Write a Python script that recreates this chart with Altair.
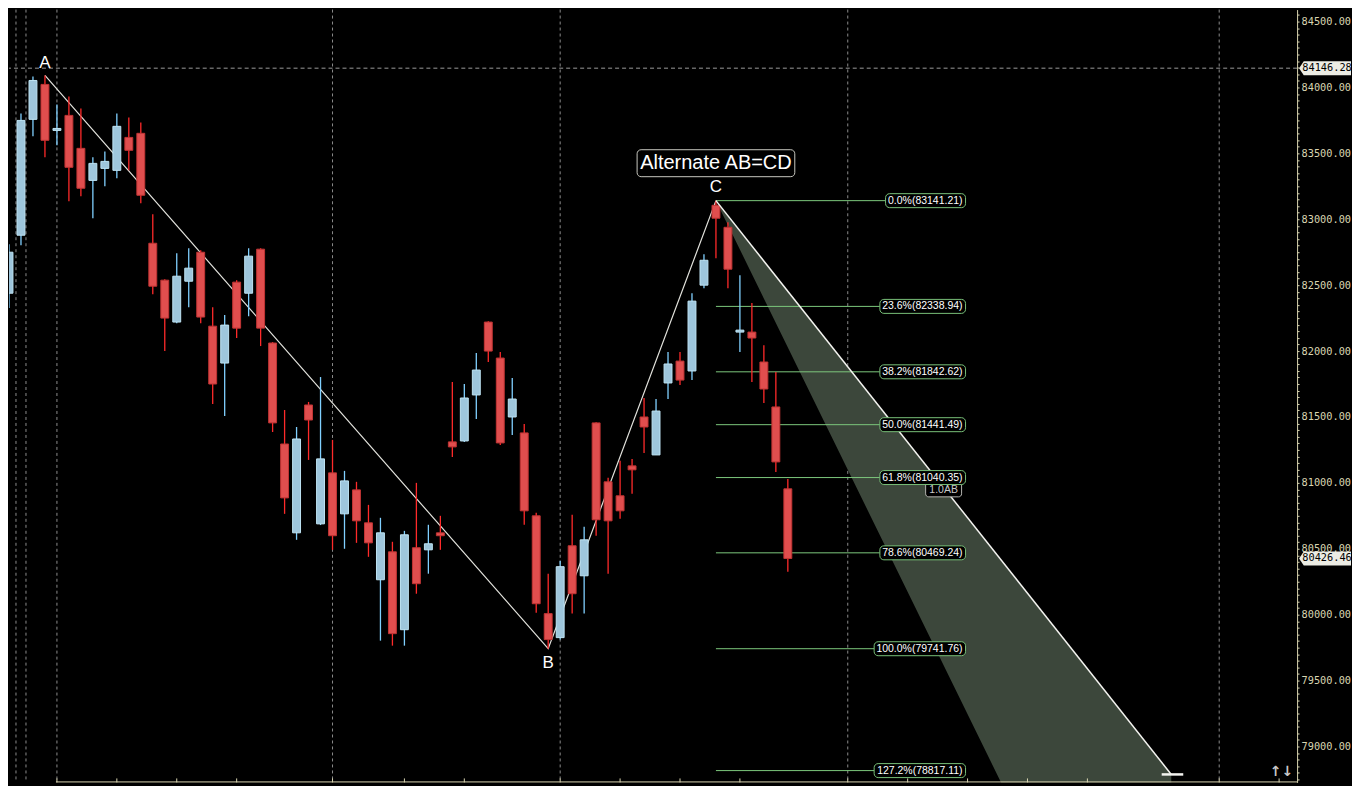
import altair as alt
import pandas as pd

# ---------------- data ----------------
opens = [82439, 82879, 83758, 84023, 83674, 83788, 83538, 83295, 83386, 83371,
         83621, 83652, 82818, 82538, 82220, 82530, 82750, 82189, 81909, 82523,
         82439, 82773, 82061, 81295, 80621, 81591, 80689, 81076, 80765, 80947,
         80697, 80265, 80477, 79886, 80508, 80492, 80621, 81311, 81318, 81667,
         82220, 81947, 81500, 81379, 80750, 80008, 79826, 80523, 80295, 81455,
         81008, 80902, 81129, 81500, 81212, 81758, 81924, 81849, 82500, 83106,
         82939, 82144, 82144, 81917, 81576, 80955]
highs = [82811, 83803, 84083, 84091, 83871, 83932, 83841, 83470, 83515, 83803,
         83773, 83735, 83038, 82545, 82742, 82780, 82765, 82333, 82273, 82538,
         82780, 82780, 82068, 81553, 81424, 81614, 81803, 81326, 81091, 81008,
         80833, 80735, 80553, 80636, 81000, 80682, 80750, 81765, 81750, 81985,
         82227, 81992, 81795, 81447, 80773, 80311, 80409, 80758, 80667, 81460,
         81038, 81167, 81182, 81644, 81636, 81992, 81992, 82439, 82735, 83141.21,
         82977, 82576, 82364, 82045, 81841, 81030]
lows = [82326, 82803, 83629, 83470, 83561, 83136, 83174, 83008, 83250, 83311,
        83371, 83121, 82432, 82000, 82212, 82333, 82212, 81599, 81508, 82099,
        82265, 82038, 81386, 80765, 80568, 81174, 80680, 80492, 80500, 80545,
        80439, 79803, 79765, 79765, 80159, 80311, 80492, 81197, 81311, 81485,
        81917, 81288, 81364, 80682, 80015, 79741.76, 79811, 80008, 80008, 80599,
        80311, 80727, 80917, 81227, 81212, 81636, 81742, 81780, 82477, 82705,
        82477, 81992, 81765, 81606, 81083, 80326]
closes = [82750, 83750, 84053, 83599, 83689, 83394, 83235, 83424, 83439, 83705,
          83523, 83182, 82492, 82250, 82568, 82629, 82258, 81750, 82197, 82174,
          82720, 82174, 81455, 80886, 81333, 81477, 81182, 80599, 81015, 80712,
          80545, 80621, 79856, 80606, 80235, 80538, 80599, 81273, 81644, 81856,
          82000, 81303, 81636, 80788, 80083, 79811, 80364, 80159, 80568, 80720,
          80712, 80788, 81099, 81424, 81545, 81902, 81780, 82379, 82689, 83008,
          82621, 82159, 82099, 81712, 81159, 80426.46]
bar_index = list(range(len(opens)))

fib_pct = ["0.0%", "23.6%", "38.2%", "50.0%", "61.8%", "78.6%", "100.0%", "127.2%"]
fib_val = [83141.21, 82338.94, 81842.62, 81441.49, 81040.35, 80469.24, 79741.76, 78817.11]

point_names = ["A", "B", "C"]
point_idx = [3, 45, 59]
point_val = [84091, 79741.76, 83141.21]
label_shift_px = [12, -14, 14]

d_idx = 97
d_val = 78788
# shaded projection wedge (C -> D edge and the left edge)
wedge_idx = [59, 82.83, 97]
wedge_upper = [83141.21, 80406, 78788]
wedge_lower = [83141.21, 78720, 76098]

price_tags = [84146.28, 80426.46]
grid_idx = [0.583, 1.417, 4, 27, 46, 70, 101]
tick_idx = [4, 9, 14, 19, 27, 33, 38, 46, 51, 56, 61, 70, 75, 80, 85, 90, 101, 106]

# ---------------- scales ----------------
X_DOMAIN = [0, 107.5]
Y_DOMAIN = [78727.3, 84590.9]
xs = alt.Scale(domain=X_DOMAIN, nice=False, zero=False)
ys = alt.Scale(domain=Y_DOMAIN, nice=False, zero=False)
PX = 7.5758  # price units per pixel

AXIS_COL = "#d8d4b0"
yaxis = alt.Axis(orient="right", values=list(range(78750, 84600, 50)),
                 labelExpr="datum.value % 500 == 0 ? format(datum.value, '.2f') : ''",
                 tickSize=2, tickColor=AXIS_COL, domainColor=AXIS_COL, labelColor=AXIS_COL,
                 labelFont="DejaVu Sans Mono", labelFontSize=10.3, labelPadding=2,
                 grid=False, title=None, labelOverlap=False)


def X(f):
    return alt.X(f, scale=xs, axis=None)


def Y(f):
    return alt.Y(f, scale=ys, axis=yaxis)


# ---------------- frames ----------------
candles = pd.DataFrame(dict(i=bar_index, open=opens, high=highs, low=lows, close=closes))
candles["dir"] = ["up" if c > o else "down" for o, c in zip(opens, closes)]
candles["x0"] = candles["i"] - 0.33
candles["x1"] = candles["i"] + 0.33

fib = pd.DataFrame({"pct": fib_pct, "v": fib_val})
fib["label"] = [f"{p}({v:.2f})" for p, v in zip(fib_pct, fib_val)]
fib["xr"] = 79.83
fib["xl"] = fib["xr"] - fib["label"].str.len() * 5.72 / 12
fib["x0"] = point_idx[2]
fib["top"] = fib["v"] + 7 * PX
fib["bot"] = fib["v"] - 7 * PX

pts = pd.DataFrame({"name": point_names, "i": point_idx, "v": point_val, "seq": [0, 1, 2]})
pts["lv"] = [v + s * PX for v, s in zip(point_val, label_shift_px)]

cd = pd.DataFrame({"i": [point_idx[2], d_idx], "v": [point_val[2], d_val]})
wedge = pd.DataFrame({"i": wedge_idx, "u": wedge_upper, "l": wedge_lower})

# ---------------- layers ----------------
grid = alt.Chart(pd.DataFrame({"i": grid_idx})).mark_rule(
    color="#8c8c8c", strokeDash=[3, 3], strokeWidth=1).encode(x=X("i:Q"))

cross = alt.Chart(pd.DataFrame({"v": [price_tags[0]]})).mark_rule(
    color="#9a9a9a", strokeDash=[4, 3], strokeWidth=1).encode(y=Y("v:Q"))

area = alt.Chart(wedge).mark_area(color="#3c473b", opacity=1, clip=True).encode(
    x=X("i:Q"), y=Y("u:Q"), y2="l:Q")

fib_lines = alt.Chart(fib).mark_rule(color="#7cc87c", strokeWidth=1).encode(
    x=X("x0:Q"), x2="xl:Q", y=Y("v:Q"))

abc = alt.Chart(pts).mark_line(color="#e2e2dc", strokeWidth=1.2).encode(
    x=X("i:Q"), y=Y("v:Q"), order="seq:Q")

color_scale = alt.Scale(domain=["up", "down"], range=["#80d0ff", "#ff2a2a"])
wicks = alt.Chart(candles).mark_rule(strokeWidth=1.3, clip=True).encode(
    x=X("i:Q"), y=Y("low:Q"), y2="high:Q",
    color=alt.Color("dir:N", scale=color_scale, legend=None))

bodies = alt.Chart(candles).mark_rect(strokeWidth=1, clip=True).encode(
    x=X("x0:Q"), x2="x1:Q", y=Y("open:Q"), y2="close:Q",
    fill=alt.Fill("dir:N", scale=alt.Scale(domain=["up", "down"], range=["#9ec6dc", "#e04e4e"]), legend=None),
    stroke=alt.Stroke("dir:N", scale=alt.Scale(domain=["up", "down"], range=["#bfe4f4", "#c23434"]), legend=None))

cd_line = alt.Chart(cd).mark_line(color="#f4f4f0", strokeWidth=1.5, clip=True).encode(
    x=X("i:Q"), y=Y("v:Q"))

d_bar = alt.Chart(pd.DataFrame({"a": [d_idx - 0.8], "b": [d_idx + 1.0], "v": [d_val]})).mark_rule(
    color="#f4f4f0", strokeWidth=2.5).encode(x=X("a:Q"), x2="b:Q", y=Y("v:Q"))

pt_text = alt.Chart(pts).mark_text(color="white", fontSize=17, font="Liberation Sans",
                                   baseline="middle", align="center").encode(
    x=X("i:Q"), y=Y("lv:Q"), text="name:N")

alt_box = alt.Chart(pd.DataFrame({"a": [52.42], "b": [65.58],
                                  "t": [point_val[2] + 51 * PX], "u": [point_val[2] + 24 * PX]})).mark_rect(
    fill="black", stroke="#c8c8c0", strokeWidth=1, cornerRadius=4).encode(
    x=X("a:Q"), x2="b:Q", y=Y("t:Q"), y2="u:Q")
alt_text = alt.Chart(pd.DataFrame({"i": [point_idx[2]], "v": [point_val[2] + 37.5 * PX],
                                   "s": ["Alternate AB=CD"]})).mark_text(
    color="white", fontSize=20, font="Liberation Sans", baseline="middle", align="center").encode(
    x=X("i:Q"), y=Y("v:Q"), text="s:N")

ab_box = alt.Chart(pd.DataFrame({"a": [76.5], "b": [79.5], "t": [81008], "u": [80894]})).mark_rect(
    fill="black", stroke="#b4b4b0", strokeWidth=1, cornerRadius=3).encode(
    x=X("a:Q"), x2="b:Q", y=Y("t:Q"), y2="u:Q")
ab_text = alt.Chart(pd.DataFrame({"i": [78.0], "v": [80947], "s": ["1.0AB"]})).mark_text(
    color="#c8c8c8", fontSize=10.5, font="Liberation Sans", baseline="middle", align="center").encode(
    x=X("i:Q"), y=Y("v:Q"), text="s:N")

fib_box = alt.Chart(fib).mark_rect(fill="black", stroke="#78c078", strokeWidth=1, cornerRadius=4).encode(
    x=X("xl:Q"), x2="xr:Q", y=Y("top:Q"), y2="bot:Q")
fib_text = alt.Chart(fib).mark_text(color="white", fontSize=10.5, font="Liberation Sans",
                                    align="right", baseline="middle", dx=-3).encode(
    x=X("xr:Q"), y=Y("v:Q"), text="label:N")

bottom_line = alt.Chart(pd.DataFrame({"a": [3.92], "b": [X_DOMAIN[1]], "v": [Y_DOMAIN[0] + 0.5 * PX]})).mark_rule(
    color=AXIS_COL, strokeWidth=1).encode(x=X("a:Q"), x2="b:Q", y=Y("v:Q"))
bottom_ticks = alt.Chart(pd.DataFrame({"i": tick_idx})).transform_calculate(
    a=str(Y_DOMAIN[0]), b=str(Y_DOMAIN[0] + 4 * PX)).mark_rule(color=AXIS_COL, strokeWidth=1).encode(
    x=X("i:Q"), y=Y("a:Q"), y2="b:Q")

arrows = alt.Chart(pd.DataFrame({"i": [106.2], "v": [78803], "s": ["↑↓"]})).mark_text(
    color="#c8c8c8", fontSize=14, fontWeight="bold", font="DejaVu Sans", baseline="middle").encode(
    x=X("i:Q"), y=Y("v:Q"), text="s:N")

TAG_PATH = "M -1 0 L -0.82 -0.27 L 1 -0.27 L 1 0.27 L -0.82 0.27 Z"
tag_df = pd.DataFrame({"v": price_tags, "t": [f"{p:.2f}" for p in price_tags]})
tag_shape = alt.Chart(tag_df).mark_point(shape=TAG_PATH, size=52 * 52, filled=True,
                                         fill="#ecece4", opacity=1, strokeWidth=0).encode(
    x=alt.value(1318), y=Y("v:Q"))
tag_text = alt.Chart(tag_df).mark_text(font="DejaVu Sans Mono", fontSize=10.3, color="black",
                                       align="center", baseline="middle").encode(
    x=alt.value(1320), y=Y("v:Q"), text="t:N")

chart = alt.layer(
    grid, cross, area, fib_lines, abc, wicks, bodies, cd_line, d_bar,
    pt_text, alt_box, alt_text, ab_box, ab_text, fib_box, fib_text,
    bottom_line, bottom_ticks, arrows, tag_shape, tag_text
).properties(width=1290, height=774, padding=0, background="black").configure_view(stroke=None)

chart.save("out.html", embed_options={"renderer": "svg", "actions": False})
